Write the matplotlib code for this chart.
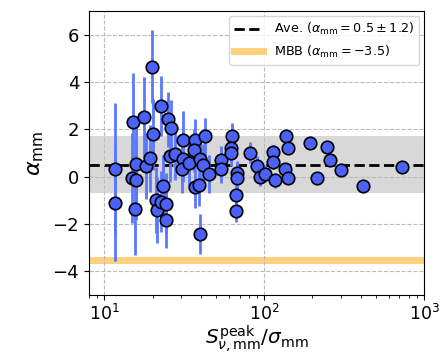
import matplotlib
matplotlib.use("Agg")
import matplotlib.pyplot as plt
import numpy as np

snr = [11.7, 11.7, 15.0, 14.9, 15.8, 15.8, 15.5, 17.7, 18.3, 19.9,
       20.1, 19.4, 22.6, 21.1, 21.4, 22.7, 23.4, 25.0, 25.9, 24.4,
       24.4, 25.6, 27.5, 31.0, 31.0, 30.7, 33.8, 36.6, 36.1, 39.8,
       41.3, 42.4, 45.1, 37.1, 39.0, 39.5, 53.8, 53.8, 62.4, 61.5,
       61.5, 67.8, 67.8, 66.8, 66.8, 80.9, 89.5, 93.3, 100.5, 113,
       113, 115.8, 135, 137, 141, 140.5, 194, 213, 246, 258,
       300, 413, 725]
alpha = [0.33, -1.10, 2.30, -0.07, 0.52, -0.13, -1.37, 2.51, 0.44, 4.65,
         1.80, 0.77, 2.99, -1.00, -1.42, -1.05, -0.40, 2.42, 2.04, -1.14,
         -1.81, 0.88, 0.97, 1.57, 0.76, 0.33, 0.60, 1.55, 1.11, 0.76,
         0.48, 1.70, 0.13, -0.42, -0.35, -2.43, 0.70, 0.32, 1.74, 1.20,
         0.99, 0.17, -0.06, -0.79, -1.43, 1.01, 0.47, 0.00, 0.13, 1.03,
         0.64, -0.16, 0.32, 1.73, 1.20, -0.07, 1.41, -0.04, 1.24, 0.69,
         0.28, -0.40, 0.42]
alpha_err = [2.8, 2.45, 2.1, 1.9, 1.8, 1.7, 1.95, 1.7, 1.4, 1.55,
             1.5, 1.4, 1.26, 1.4, 1.4, 1.3, 1.3, 1.15, 1.2, 1.3,
             1.2, 1.1, 1.1, 1.2, 1.0, 1.0, 1.0, 0.9, 0.9, 0.9,
             0.9, 0.8, 0.8, 0.9, 0.9, 0.85, 0.6, 0.6, 0.55, 0.55,
             0.55, 0.5, 0.5, 0.5, 0.5, 0.45, 0.4, 0.4, 0.35, 0.3,
             0.3, 0.3, 0.25, 0.25, 0.25, 0.25, 0.2, 0.18, 0.15, 0.15,
             0.12, 0.1, 0.06]
ave, ave_std = 0.5, 1.2
mbb = -3.5

fig = plt.figure(figsize=(4.47, 3.58), dpi=100)
ax = fig.add_axes([0.199, 0.176, 0.75, 0.793])

ax.axhspan(ave - ave_std, ave + ave_std, color='gray', alpha=0.3, lw=0, zorder=0)
ax.axhline(ave, color='k', ls='--', lw=2, zorder=1,
           label=r'Ave. ($\alpha_{\rm mm}=0.5\pm1.2$)')
ax.axhline(mbb, color='orange', alpha=0.5, lw=5, zorder=1,
           label=r'MBB ($\alpha_{\rm mm}=-3.5$)')
ax.errorbar(snr, alpha, yerr=alpha_err, fmt='none', ecolor='#5a78ff',
            elinewidth=2, zorder=2)
ax.plot(snr, alpha, 'o', ms=9, mfc='#4a62f7', mec='k', mew=1.2, zorder=3)

ax.set_xscale('log')
ax.set_xlim(8, 1000)
ax.set_ylim(-5, 7)
ax.set_yticks([-4, -2, 0, 2, 4, 6])
ax.grid(True, which='major', ls='--', color='#bbbbbb', lw=0.8)
ax.tick_params(axis='y', labelsize=13)
ax.tick_params(axis='x', labelsize=12.5, pad=3)
ax.set_xlabel(r'$S_{\nu,\rm mm}^{\rm peak}/\sigma_{\rm mm}$', fontsize=14.5, labelpad=0)
ax.set_ylabel(r'$\alpha_{\rm mm}$', fontsize=16, labelpad=5)
ax.legend(loc='upper right', fontsize=9.2, handlelength=2.3, borderaxespad=0.4)

fig.savefig('out.png', dpi=100)
